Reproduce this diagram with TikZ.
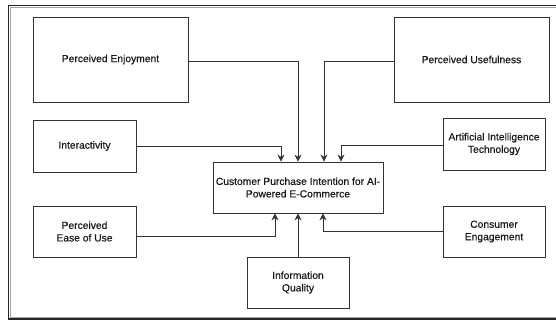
\documentclass[tikz,border=0pt]{standalone}
\usepackage{fontspec}
\setmainfont{Liberation Sans}[FakeBold=0.4]
\usetikzlibrary{arrows.meta}
\begin{document}
\begin{tikzpicture}[x=1pt,y=-1pt,
  box/.style={draw=black!80, line width=0.8pt, fill=white, inner sep=1pt, align=center, font=\fontsize{10.3}{12.5}\selectfont, text=black!90},
  conn/.style={draw=black!80, line width=0.8pt, -{Stealth[length=7pt,width=7pt]}},
  frame/.style={draw=black!85, line width=1.2pt}]
\useasboundingbox (0,0) rectangle (556,320);
% outer frame (cropped on the right)
\draw[frame] (556,5.5) -- (8.5,5.5) -- (8.5,319) -- (556,319);
\draw[draw=black!35, line width=0.8pt] (556,7.5) -- (10.5,7.5) -- (10.5,317.5) -- (556,317.5);
% nodes
\node[box, minimum width=155, minimum height=85] (pe) at (110.5,59.5) {Perceived Enjoyment};
\node[box, minimum width=155, minimum height=85] (pu) at (471.5,59.5) {Perceived Usefulness};
\node[box, minimum width=103, minimum height=52] (ia) at (84.5,146) {Interactivity};
\node[box, minimum width=102, minimum height=52] (ai) at (494,144) {Artificial Intelligence\\Technology};
\node[box, minimum width=170, minimum height=51] (ct) at (298,187.5) {Customer Purchase Intention for AI-\\Powered E-Commerce};
\node[box, minimum width=103, minimum height=51] (eu) at (84.5,231.5) {Perceived\\Ease of Use};
\node[box, minimum width=102, minimum height=51] (iq) at (298,282.5) {Information\\Quality};
\node[box, minimum width=102, minimum height=51] (ce) at (494,231.5) {Consumer\\Engagement};
% connectors
\draw[conn] ([yshift=-1.5pt]pe.east) -| (ct.north);
\draw[conn] (ia.east) -| ([xshift=-17pt]ct.north);
\draw[conn] ([yshift=-1.5pt]pu.west) -| ([xshift=26pt]ct.north);
\draw[conn] ([yshift=-1pt]ai.west) -| ([xshift=43pt]ct.north);
\draw[conn] ([yshift=-4.5pt]eu.east) -| ([xshift=-23pt]ct.south);
\draw[conn] (iq.north) -- (ct.south);
\draw[conn] (ce.west) -| ([xshift=25pt]ct.south);
\end{tikzpicture}
\end{document}
